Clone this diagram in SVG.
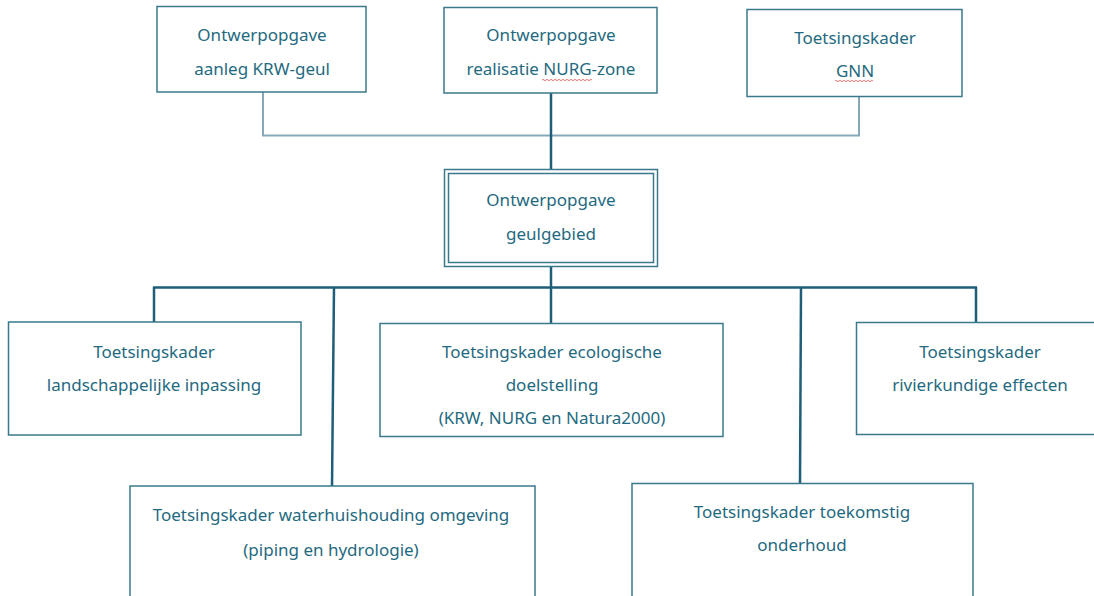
<svg xmlns="http://www.w3.org/2000/svg" width="1094" height="596" viewBox="0 0 1094 596">
<style>
.box{fill:#fff;stroke:#3a788c;stroke-width:1.5}
.t{font-family:"Noto Sans","Open Sans",sans-serif;font-size:17px;fill:#1f6a80;text-anchor:middle}
.thin{fill:none;stroke:#86a9ba;stroke-width:2}
.thick{fill:none;stroke:#1f5e78;stroke-width:2.5}
.wavy{fill:none;stroke:#e05050;stroke-width:0.8}
</style>
<g id="connectors">
<polyline class="thin" points="263,92 263,135.5 859,135.5 859,97"/>
<line class="thick" x1="551" y1="93" x2="551" y2="169"/>
<line class="thick" x1="551" y1="267" x2="551" y2="288"/>
<line class="thick" x1="153" y1="287.5" x2="977" y2="287.5"/>
<line class="thick" x1="154" y1="287" x2="154" y2="322"/>
<line class="thick" x1="334" y1="287" x2="332" y2="487"/>
<line class="thick" x1="551" y1="287" x2="551" y2="323"/>
<line class="thick" x1="801" y1="287" x2="800" y2="484"/>
<line class="thick" x1="976" y1="287" x2="976" y2="323"/>
</g>
<g id="n1">
<rect class="box" x="157" y="6.5" width="209" height="85.5"/>
<text class="t" x="262" y="41">Ontwerpopgave</text>
<text class="t" x="262" y="75">aanleg KRW-geul</text>
</g>
<g id="n2">
<rect class="box" x="444" y="7.5" width="213" height="85.5"/>
<text class="t" x="551" y="41">Ontwerpopgave</text>
<text class="t" x="551" y="75">realisatie NURG-zone</text>
<path class="wavy" d="M542,80 q1,-1.2 2,0 t2,0 t2,0 t2,0 t2,0 t2,0 t2,0 t2,0 t2,0 t2,0 t2,0 t2,0 t2,0 t2,0 t2,0 t2,0 t2,0 t2,0 t2,0 t2,0 t2,0 t2,0 t2,0 t2,0 t2,0"/>
</g>
<g id="n3">
<rect class="box" x="747" y="9.5" width="215" height="87"/>
<text class="t" x="855" y="44">Toetsingskader</text>
<text class="t" x="855" y="77">GNN</text>
<path class="wavy" d="M835,81 q1,-1.2 2,0 t2,0 t2,0 t2,0 t2,0 t2,0 t2,0 t2,0 t2,0 t2,0 t2,0 t2,0 t2,0 t2,0 t2,0 t2,0 t2,0 t2,0 t2,0"/>
</g>
<g id="center">
<rect class="box" x="444.5" y="169.5" width="213" height="97"/>
<text class="t" x="551" y="206">Ontwerpopgave</text>
<rect class="box" x="448.5" y="173.5" width="205" height="89" fill="none" style="fill:none"/>
<text class="t" x="551" y="240">geulgebied</text>
</g>
<g id="n4">
<rect class="box" x="8.5" y="322" width="292.5" height="113"/>
<text class="t" x="154" y="358">Toetsingskader</text>
<text class="t" x="154" y="391">landschappelijke inpassing</text>
</g>
<g id="n5">
<rect class="box" x="380" y="323.5" width="343" height="113"/>
<text class="t" x="552" y="358">Toetsingskader ecologische</text>
<text class="t" x="552" y="391">doelstelling</text>
<text class="t" x="552" y="424">(KRW, NURG en Natura2000)</text>
</g>
<g id="n6">
<rect class="box" x="856.5" y="322.5" width="245" height="112"/>
<text class="t" x="980" y="358">Toetsingskader</text>
<text class="t" x="980" y="391">rivierkundige effecten</text>
</g>
<g id="n7">
<rect class="box" x="130" y="486" width="405" height="130"/>
<text class="t" x="331" y="521">Toetsingskader waterhuishouding omgeving</text>
<text class="t" x="331" y="556">(piping en hydrologie)</text>
</g>
<g id="n8">
<rect class="box" x="632" y="483.5" width="341" height="130"/>
<text class="t" x="802" y="518">Toetsingskader toekomstig</text>
<text class="t" x="802" y="551">onderhoud</text>
</g>
</svg>
